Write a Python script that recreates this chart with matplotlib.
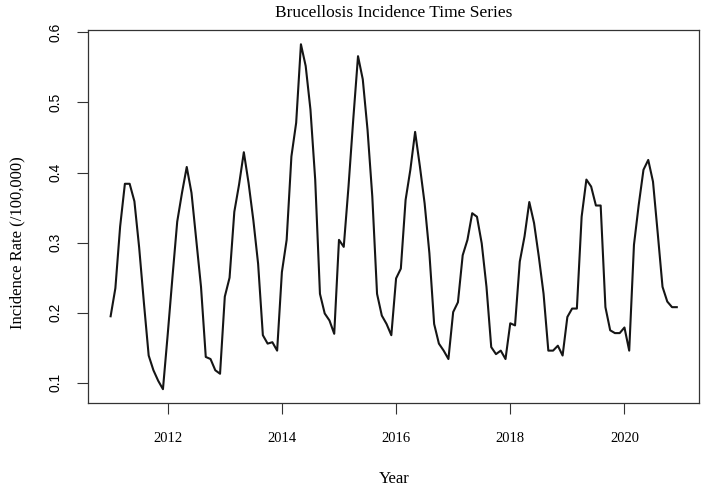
import matplotlib.pyplot as plt
import numpy as np

# monthly brucellosis incidence (/100,000), Jan 2011 - Dec 2020
rate_2011 = [0.195, 0.235, 0.323, 0.384, 0.384, 0.359, 0.293, 0.214, 0.139, 0.118, 0.103, 0.091]
rate_2012 = [0.169, 0.251, 0.330, 0.371, 0.408, 0.371, 0.304, 0.237, 0.137, 0.134, 0.118, 0.113]
rate_2013 = [0.223, 0.250, 0.344, 0.383, 0.429, 0.385, 0.332, 0.270, 0.168, 0.156, 0.158, 0.146]
rate_2014 = [0.258, 0.304, 0.423, 0.471, 0.583, 0.552, 0.490, 0.390, 0.227, 0.199, 0.189, 0.170]
rate_2015 = [0.304, 0.294, 0.380, 0.476, 0.566, 0.533, 0.461, 0.366, 0.227, 0.196, 0.184, 0.168]
rate_2016 = [0.249, 0.263, 0.361, 0.404, 0.458, 0.409, 0.356, 0.285, 0.184, 0.156, 0.146, 0.134]
rate_2017 = [0.201, 0.215, 0.282, 0.304, 0.342, 0.337, 0.299, 0.237, 0.151, 0.141, 0.146, 0.134]
rate_2018 = [0.185, 0.182, 0.273, 0.309, 0.358, 0.328, 0.280, 0.227, 0.146, 0.146, 0.153, 0.139]
rate_2019 = [0.194, 0.206, 0.206, 0.337, 0.390, 0.380, 0.353, 0.353, 0.208, 0.175, 0.171, 0.171]
rate_2020 = [0.179, 0.146, 0.297, 0.354, 0.404, 0.418, 0.387, 0.313, 0.237, 0.216, 0.208, 0.208]

rate = np.array(rate_2011 + rate_2012 + rate_2013 + rate_2014 + rate_2015 +
                rate_2016 + rate_2017 + rate_2018 + rate_2019 + rate_2020)
start_year = 2011
t = start_year + np.arange(len(rate)) / 12.0   # monthly time index, like R ts()

xticks = [2012, 2014, 2016, 2018, 2020]
yticks = [0.1, 0.2, 0.3, 0.4, 0.5, 0.6]

serif = 'Liberation Serif'
sans = 'Liberation Sans'

fig = plt.figure(figsize=(7.06, 4.9), dpi=100)
ax = fig.add_axes([0.1246, 0.1776, 0.8661, 0.7602])

ax.plot(t, rate, color='#151515', lw=1.5)

# R style 4% padding around the data
dx = (t.max() - t.min()) * 0.04
dy = (rate.max() - rate.min()) * 0.04
ax.set_xlim(t.min() - dx, t.max() + dx)
ax.set_ylim(rate.min() - dy, rate.max() + dy)

ax.set_xticks(xticks)
ax.set_xticklabels([str(x) for x in xticks], fontfamily=serif, fontsize=10.5)
ax.set_yticks(yticks)
ax.set_yticklabels([str(y) for y in yticks], fontfamily=sans, fontsize=10,
                   rotation=90, va='center')
ax.tick_params(axis='x', direction='out', length=8, width=0.8, pad=13, colors='#333333')
ax.tick_params(axis='y', direction='out', length=8, width=0.8, pad=10, colors='#333333')
for lab in ax.get_xticklabels() + ax.get_yticklabels():
    lab.set_color('black')
for s in ax.spines.values():
    s.set_color('#333333')
    s.set_linewidth(0.9)

ax.set_title('Brucellosis Incidence Time Series', fontfamily=serif, fontsize=12.5, pad=10)
ax.set_xlabel('Year', fontfamily=serif, fontsize=12, va='center')
ax.xaxis.set_label_coords(0.5, -0.204)
ax.set_ylabel('Incidence Rate (/100,000)', fontfamily=serif, fontsize=12, va='center')
ax.yaxis.set_label_coords(-0.116, 0.43)

fig.savefig('out.png', dpi=100)
